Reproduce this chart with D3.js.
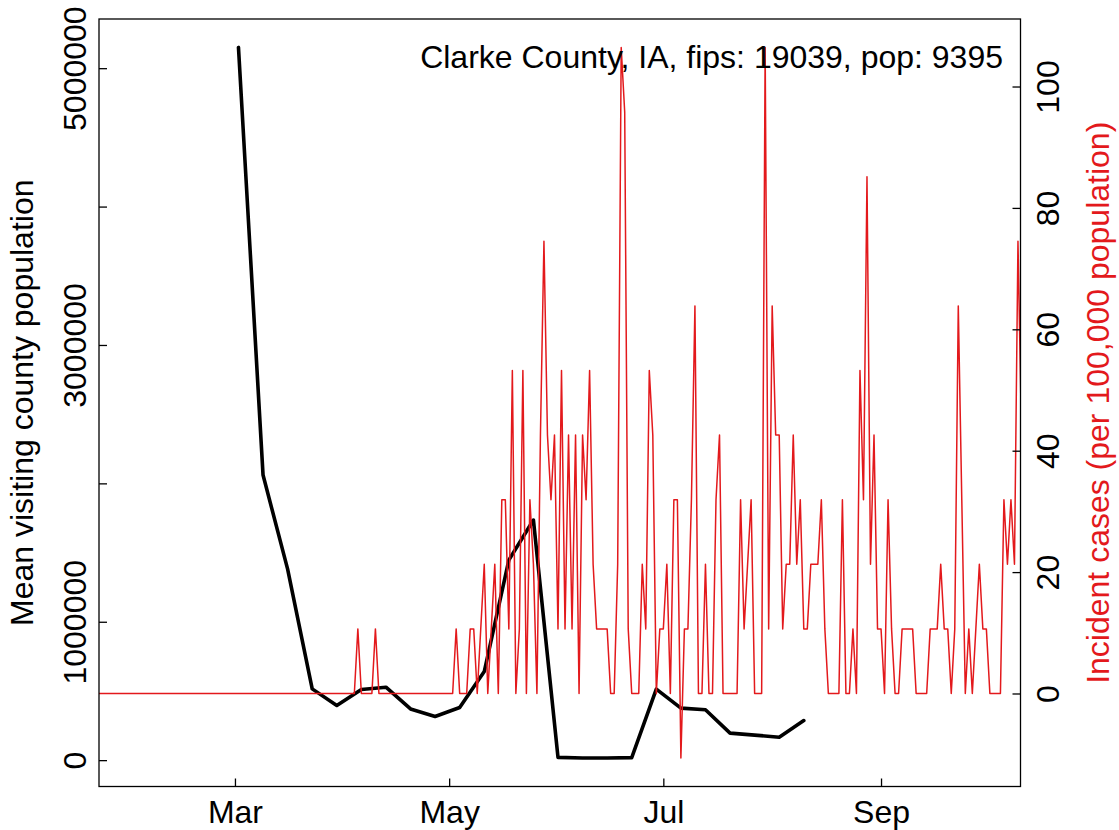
<!DOCTYPE html>
<html>
<head>
<meta charset="utf-8">
<script src="https://cdn.jsdelivr.net/npm/d3@7"></script>
<style>
  html, body { margin: 0; padding: 0; background: #ffffff; }
  svg { display: block; }
  text { font-family: "Liberation Sans", Arial, Helvetica, sans-serif; }
</style>
</head>
<body>
<svg id="chart" width="1119" height="830"></svg>
<script>
// ---------------- data ----------------
const chartTitle = "Clarke County, IA, fips: 19039, pop: 9395";
const leftAxisTitle = "Mean visiting county population";
const rightAxisTitle = "Incident cases (per 100,000 population)";

// x limits of the plot (date range before R's 4% padding)
const xLimits = ["2020-02-01", "2020-10-01"];

// x axis ticks
const monthTickDates = ["2020-03-01", "2020-05-01", "2020-07-01", "2020-09-01"];
const monthTickLabels = ["Mar", "May", "Jul", "Sep"];

// left axis ticks (labels omitted where R dropped overlapping ones)
const leftTickValues = [0, 1000000, 2000000, 3000000, 4000000, 5000000];
const leftTickLabels = ["0", "1000000", "", "3000000", "", "5000000"];

// right axis ticks
const rightTickValues = [0, 20, 40, 60, 80, 100];

// weekly mean visiting county population (black line)
const blackDates = [
  "2020-03-02", "2020-03-09", "2020-03-16", "2020-03-23", "2020-03-30",
  "2020-04-06", "2020-04-13", "2020-04-20", "2020-04-27",
  "2020-05-04", "2020-05-11", "2020-05-18", "2020-05-25",
  "2020-06-01", "2020-06-08", "2020-06-15", "2020-06-22", "2020-06-29",
  "2020-07-06", "2020-07-13", "2020-07-20", "2020-07-27",
  "2020-08-03", "2020-08-10"
];
const blackValues = [
  5150000, 2060000, 1380000, 515000, 395000,
  510000, 527000, 370000, 315000,
  380000, 640000, 1445000, 1735000,
  20000, 16000, 15000, 18000, 513000,
  376000, 364000, 195000, 181000,
  166000, 286000
];

// daily incident cases per 100,000 (red line), starting at redStartDate
const redStartDate = "2020-01-22";
const redValues = [
  // Jan 22 - Jan 31
  0,0,0,0,0,0,0,0,0,0,
  // Feb 1 - Feb 29
  0,0,0,0,0,0,0,0,0,0, 0,0,0,0,0,0,0,0,0,0, 0,0,0,0,0,0,0,0,0,
  // Mar 1 - Mar 31
  0,0,0,0,0,0,0,0,0,0, 0,0,0,0,0,0,0,0,0,0, 0,0,0,0,0,0,0,0,0,0, 0,
  // Apr 1 - Apr 30
  0,0,0,0,10.64,0,0,0,0,10.64, 0,0,0,0,0,0,0,0,0,0, 0,0,0,0,0,0,0,0,0,0,
  // May 1 - May 31
  0,0,10.64,0,0,0,10.64,10.64,0,10.64, 21.29,0,10.64,21.29,0,31.93,31.93,10.64,53.22,0,
  10.64,53.22,0,31.93,21.29,0,42.58,74.51,42.58,31.93, 42.58,
  // Jun 1 - Jun 30
  10.64,53.22,10.64,42.58,10.64,42.58,0,42.58,31.93,53.22,
  21.29,10.64,10.64,10.64,10.64,0,0,21.29,106.44,95.8,
  10.64,0,0,0,21.29,10.64,53.22,42.58,0,10.64,
  // Jul 1 - Jul 31
  10.64,21.29,0,31.93,31.93,-10.64,10.64,10.64,31.93,63.86,
  0,0,21.29,0,0,31.93,42.58,0,0,0,
  0,0,31.93,10.64,21.29,31.93,0,0,0,106.44, 10.64,
  // Aug 1 - Aug 31
  63.86,42.58,42.58,10.64,21.29,21.29,42.58,21.29,31.93,10.64,
  10.64,21.29,21.29,21.29,31.93,10.64,0,0,0,0,
  31.93,0,0,10.64,0,53.22,31.93,85.15,21.29,42.58, 10.64,
  // Sep 1 - Sep 30
  10.64,0,31.93,10.64,0,0,10.64,10.64,10.64,10.64,
  0,0,0,0,10.64,10.64,10.64,21.29,10.64,10.64,
  0,10.64,63.86,31.93,0,10.64,0,10.64,21.29,10.64,
  // Oct 1 - Oct 11
  10.64,0,0,0,0,31.93,21.29,31.93,21.29,74.51, 42.58
];

// ---------------- layout ----------------
const W = 1119, H = 830;
const plot = { left: 99, right: 1020.5, top: 19, bottom: 786.5 };
const FONT = 32;
const RED = "#e3191c";

const parse = d3.utcParse("%Y-%m-%d");
const svg = d3.select("#chart");
svg.append("rect").attr("width", W).attr("height", H).attr("fill", "#fff");

// R-style 4% padding
function pad(ext) { const r = ext[1] - ext[0]; return [ext[0] - 0.04 * r, ext[1] + 0.04 * r]; }

const xl = xLimits.map(parse);
const xr = xl[1] - xl[0];
const x = d3.scaleUtc()
  .domain([new Date(+xl[0] - 0.04 * xr), new Date(+xl[1] + 0.04 * xr)])
  .range([plot.left, plot.right]);

const yLeft = d3.scaleLinear().domain(pad(d3.extent(blackValues))).range([plot.bottom, plot.top]);
const yRight = d3.scaleLinear().domain(pad(d3.extent(redValues))).range([plot.bottom, plot.top]);

const redStart = parse(redStartDate);
const redData = redValues.map((v, i) => ({ date: d3.utcDay.offset(redStart, i), value: v }));
const blackData = blackDates.map((d, i) => ({ date: parse(d), value: blackValues[i] }));

// clip
svg.append("clipPath").attr("id", "plotclip")
  .append("rect")
  .attr("x", plot.left).attr("y", plot.top)
  .attr("width", plot.right - plot.left).attr("height", plot.bottom - plot.top);

const gPlot = svg.append("g").attr("clip-path", "url(#plotclip)");

// black line
gPlot.append("path")
  .datum(blackData)
  .attr("fill", "none")
  .attr("stroke", "#000")
  .attr("stroke-width", 3.6)
  .attr("stroke-linejoin", "round")
  .attr("stroke-linecap", "round")
  .attr("d", d3.line().x(d => x(d.date)).y(d => yLeft(d.value)));

// red line
gPlot.append("path")
  .datum(redData)
  .attr("fill", "none")
  .attr("stroke", RED)
  .attr("stroke-width", 1.5)
  .attr("stroke-linejoin", "round")
  .attr("stroke-linecap", "round")
  .attr("d", d3.line().x(d => x(d.date)).y(d => yRight(d.value)));

// box
svg.append("rect")
  .attr("x", plot.left).attr("y", plot.top)
  .attr("width", plot.right - plot.left).attr("height", plot.bottom - plot.top)
  .attr("fill", "none").attr("stroke", "#000").attr("stroke-width", 1.3);

const TICK = 8;

// bottom axis (ticks inward)
const gx = svg.append("g")
  .attr("transform", `translate(0,${plot.bottom})`)
  .call(d3.axisBottom(x)
    .tickValues(monthTickDates.map(parse))
    .tickFormat((d, i) => monthTickLabels[i])
    .tickSizeInner(-TICK).tickSizeOuter(0));
gx.select(".domain").remove();
gx.selectAll(".tick line").attr("stroke", "#000").attr("stroke-width", 1.3);
gx.selectAll(".tick text")
  .attr("y", 36.5).attr("dy", 0)
  .attr("fill", "#000")
  .style("font-size", FONT + "px")
  .style("font-family", '"Liberation Sans", Arial, sans-serif');

// left axis
const gl = svg.append("g")
  .attr("transform", `translate(${plot.left},0)`)
  .call(d3.axisLeft(yLeft)
    .tickValues(leftTickValues)
    .tickFormat((d, i) => leftTickLabels[i])
    .tickSizeInner(-TICK).tickSizeOuter(0));
gl.select(".domain").remove();
gl.selectAll(".tick line").attr("stroke", "#000").attr("stroke-width", 1.3);
gl.selectAll(".tick text")
  .attr("x", 0).attr("y", -13).attr("dy", 0)
  .attr("transform", "rotate(-90)")
  .attr("text-anchor", "middle")
  .attr("fill", "#000")
  .style("font-size", FONT + "px")
  .style("font-family", '"Liberation Sans", Arial, sans-serif');

// right axis
const gr = svg.append("g")
  .attr("transform", `translate(${plot.right},0)`)
  .call(d3.axisRight(yRight)
    .tickValues(rightTickValues)
    .tickFormat(d3.format("d"))
    .tickSizeInner(-TICK).tickSizeOuter(0));
gr.select(".domain").remove();
gr.selectAll(".tick line").attr("stroke", "#000").attr("stroke-width", 1.3);
gr.selectAll(".tick text")
  .attr("x", 0).attr("y", 38).attr("dy", 0)
  .attr("transform", "rotate(-90)")
  .attr("text-anchor", "middle")
  .attr("fill", "#000")
  .style("font-size", FONT + "px")
  .style("font-family", '"Liberation Sans", Arial, sans-serif');

// axis titles
const midY = (plot.top + plot.bottom) / 2;
svg.append("text")
  .attr("transform", `translate(33,${midY}) rotate(-90)`)
  .attr("text-anchor", "middle")
  .attr("fill", "#000")
  .style("font-size", FONT + "px")
  .text(leftAxisTitle);

svg.append("text")
  .attr("transform", `translate(1109,${midY}) rotate(-90)`)
  .attr("text-anchor", "middle")
  .attr("fill", RED)
  .style("font-size", FONT + "px")
  .text(rightAxisTitle);

// title inside the plot (top right)
svg.append("text")
  .attr("x", 1003).attr("y", 68)
  .attr("text-anchor", "end")
  .attr("fill", "#000")
  .style("font-size", FONT + "px")
  .text(chartTitle);
</script>
</body>
</html>
